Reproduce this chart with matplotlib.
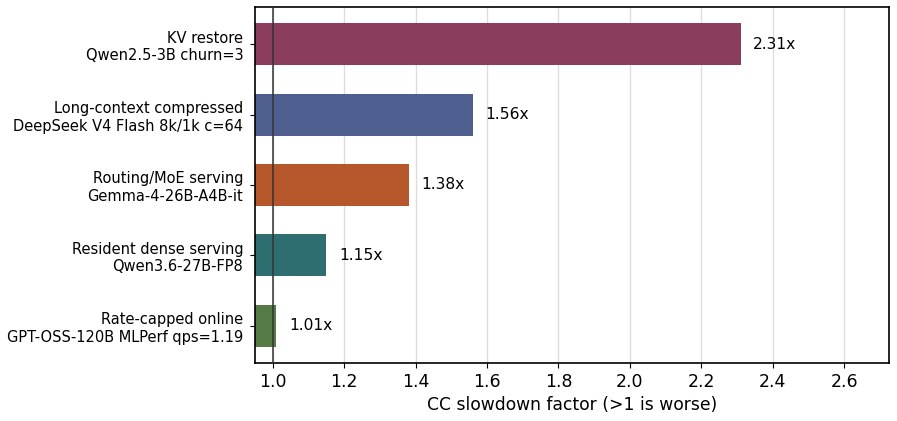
import matplotlib
matplotlib.use("Agg")
import matplotlib.pyplot as plt

labels = [
    "KV restore\nQwen2.5-3B churn=3",
    "Long-context compressed\nDeepSeek V4 Flash 8k/1k c=64",
    "Routing/MoE serving\nGemma-4-26B-A4B-it",
    "Resident dense serving\nQwen3.6-27B-FP8",
    "Rate-capped online\nGPT-OSS-120B MLPerf qps=1.19",
]
slowdown = [2.31, 1.56, 1.38, 1.15, 1.01]
colors = ["#8a3d5c", "#4e5f8f", "#b5562b", "#2e6e70", "#557a45"]

fig, ax = plt.subplots(figsize=(8.97, 4.21), dpi=100)
fig.subplots_adjust(left=0.2843, right=0.9911, top=0.9834, bottom=0.1378)

ypos = list(range(len(labels)))
ax.barh(ypos, slowdown, height=0.6, color=colors, zorder=2)
ax.axvline(1.0, color="#333333", linewidth=1.1, zorder=3)

for y, v in zip(ypos, slowdown):
    ax.text(v + 0.035, y, f"{v:.2f}x", va="center", ha="left", fontsize=11.2)

ax.set_yticks(ypos)
ax.set_yticklabels(labels, fontsize=10.5)
ax.invert_yaxis()
ax.set_xlim(0.95, max(slowdown) * 1.18)
ax.tick_params(axis="x", labelsize=12.5)
ax.tick_params(axis="y", pad=5)
ax.set_xlabel("CC slowdown factor (>1 is worse)", fontsize=12.3)
ax.grid(axis="x", color="#dddddd", linewidth=1, zorder=0)
ax.set_axisbelow(True)
for s in ax.spines.values():
    s.set_linewidth(1.2)

plt.savefig("out.png", dpi=100)
